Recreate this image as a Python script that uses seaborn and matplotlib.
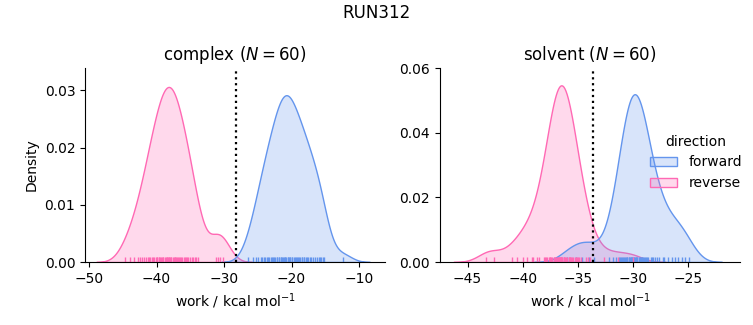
import numpy as np
import pandas as pd
import seaborn as sns
import matplotlib
matplotlib.use("Agg")
import matplotlib.pyplot as plt
from matplotlib.ticker import MultipleLocator

complex_forward = [
    -26.4,
    -25.7, -25.2,
    -24.9, -24.6, -24.4, -24.1,
    -23.9, -23.7, -23.5, -23.3, -23.1,
    -22.9, -22.7, -22.6, -22.4, -22.2, -22.1,
    -21.9, -21.8, -21.6, -21.5, -21.4, -21.3, -21.1, -21.0,
    -20.9, -20.8, -20.6, -20.5, -20.4, -20.3, -20.2, -20.0,
    -19.9, -19.7, -19.5, -19.4, -19.2, -19.1,
    -18.9, -18.7, -18.5, -18.4, -18.2, -18.1,
    -17.9, -17.7, -17.5, -17.3, -17.1,
    -16.8, -16.5, -16.2, -16.0,
    -15.8, -15.6, -15.4, -15.2,
    -12.4,
]
complex_reverse = [
    -44.7, -43.9, -43.3, -42.7, -42.4, -42.1, -41.8, -41.5, -41.3, -41.1,
    -40.9, -40.7, -40.6, -40.4, -40.1, -40.0, -39.9, -39.7, -39.6, -39.5,
    -39.3, -39.2, -39.1, -39.0, -38.7, -38.6, -38.5, -38.4,
    -38.3, -38.2, -38.1, -38.0, -37.9, -37.8, -37.6, -37.4, -37.3, -37.2,
    -37.1, -37.0, -36.8, -36.7, -36.6, -36.4, -36.2, -36.0, -35.8, -35.7,
    -35.5, -35.3, -35.1, -34.8, -34.6, -34.3, -34.1, -33.8,
    -31.2, -30.9, -30.6, -30.1,
]
solvent_forward = [
    -36.0, -35.2, -34.6, -34.0, -33.5,
    -32.2, -31.8, -31.5, -31.3, -31.2, -31.1, -31.0, -30.9, -30.8, -30.7,
    -30.6, -30.5, -30.5, -30.4, -30.4, -30.3, -30.2, -30.2, -30.1, -30.1,
    -30.0, -29.9, -29.9, -29.8, -29.7, -29.7, -29.6, -29.6, -29.5, -29.4,
    -29.4, -29.3, -29.2, -29.2, -29.1, -29.0, -28.9, -28.8, -28.7, -28.6,
    -28.4, -28.3, -28.2, -28.0, -27.8, -27.6, -27.3,
    -27.2, -26.8, -26.5, -26.2, -25.9, -25.6, -25.3, -24.9,
]
solvent_reverse = [
    -43.3, -42.6, -41.0, -40.5, -40.0, -39.6, -39.2,
    -39.1, -38.7, -38.5, -38.1, -38.0, -37.9, -37.8, -37.6, -37.5, -37.5,
    -37.4, -37.3, -37.2, -37.2, -37.1, -37.0, -36.9, -36.8, -36.8, -36.7,
    -36.7, -36.6, -36.6, -36.5, -36.5, -36.5, -36.4, -36.4, -36.3, -36.3,
    -36.3, -36.2, -36.1, -36.0, -35.8, -35.8, -35.7, -35.7, -35.6, -35.5,
    -35.4, -35.3, -35.2, -35.1, -35.0, -34.9, -34.7, -34.3, -34.1, -33.9,
    -32.6, -31.4, -30.0,
]

phases = ["complex", "solvent"]
directions = ["forward", "reverse"]
free_energy = {"complex": -28.2, "solvent": -33.65}
colors = ["cornflowerblue", "hotpink"]
ylims = {"complex": (0, 0.0339), "solvent": (0, 0.06)}
xlims = {"complex": (-50.6, -6.15), "solvent": (-47.5, -20.3)}

rows = []
for phase, d, vals in [
    ("complex", "forward", complex_forward),
    ("complex", "reverse", complex_reverse),
    ("solvent", "forward", solvent_forward),
    ("solvent", "reverse", solvent_reverse),
]:
    for v in vals:
        rows.append({"phase": phase, "direction": d, "work": v})
df = pd.DataFrame(rows)

g = sns.displot(
    data=df, x="work", hue="direction", col="phase", kind="kde",
    fill=True, rug=True, palette=colors, hue_order=directions,
    col_order=phases, facet_kws=dict(sharex=False, sharey=False),
    height=3, aspect=1.2,
)
fig = g.figure
fig.set_size_inches(7.53, 3.25)
fig.subplots_adjust(left=85 / 753, right=740 / 753, bottom=1 - 262 / 325,
                    top=1 - 68 / 325, wspace=0.183)

for ax, phase in zip(g.axes.flat, phases):
    n = len(df[(df.phase == phase) & (df.direction == "forward")])
    ax.set_title(f"{phase} ($N={n}$)", fontsize=12)
    ax.axvline(free_energy[phase], color="k", ls=":", lw=1.6)
    ax.set_xlabel("work / kcal mol$^{-1}$")
    ax.set_xlim(*xlims[phase])
    ax.set_ylim(*ylims[phase])
g.axes.flat[1].yaxis.set_major_locator(MultipleLocator(0.02))
g.axes.flat[0].set_ylabel("Density")
g.axes.flat[1].set_ylabel("")

sns.move_legend(g, loc="upper left", bbox_to_anchor=(637 / 753, 1 - 122 / 325),
                frameon=False)
fig.suptitle("RUN312", y=1 - 4 / 325, va="top", fontsize=12)
fig.savefig("out.png", dpi=100)
